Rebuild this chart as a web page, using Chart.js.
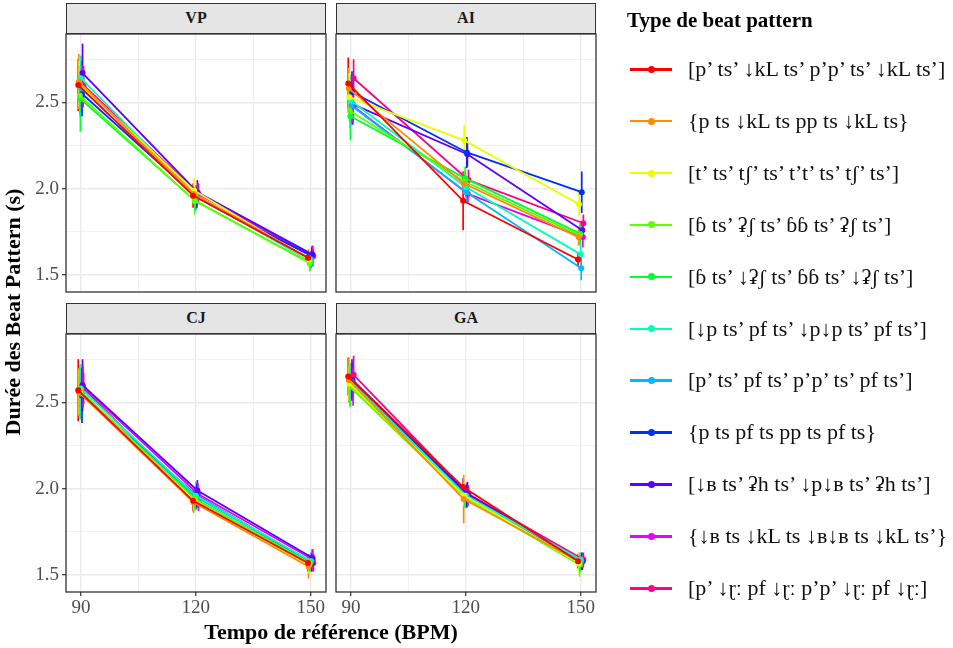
<!DOCTYPE html>
<html>
<head>
<meta charset="utf-8">
<script src="https://cdn.jsdelivr.net/npm/chart.js"></script>
<style>
  body { margin: 0; background: #fff; width: 953px; height: 648px; position: relative; overflow: hidden;
         font-family: "Liberation Serif", "Times New Roman", serif; }
  canvas.panel { position: absolute; left: 0; top: 0; }
  .strip { position: absolute; background: #E5E5E5; border: 1.3px solid #333; box-sizing: border-box;
           font-weight: bold; font-size: 16px; text-align: center; line-height: 28px; color: #1a1a1a; }
  .title { position: absolute; font-weight: bold; color: #000; white-space: nowrap; }
  .leg { position: absolute; left: 630px; height: 24px; width: 323px; }
  .leg .ln { position: absolute; left: 0; top: 11px; width: 42px; height: 2.6px; }
  .leg .dot { position: absolute; left: 17.5px; top: 8.8px; width: 7px; height: 7px; border-radius: 50%; }
  .leg .txt { position: absolute; left: 58px; top: -1px; font-size: 22px; line-height: 26px; color: #111; white-space: nowrap; }
</style>
</head>
<body>

<canvas id="cVP" class="panel" width="953" height="648"></canvas>
<canvas id="cAI" class="panel" width="953" height="648"></canvas>
<canvas id="cCJ" class="panel" width="953" height="648"></canvas>
<canvas id="cGA" class="panel" width="953" height="648"></canvas>

<div class="strip" style="left:66px;top:3px;width:260px;height:31px;">VP</div>
<div class="strip" style="left:336px;top:3px;width:260px;height:31px;">AI</div>
<div class="strip" style="left:66px;top:303px;width:260px;height:31px;">CJ</div>
<div class="strip" style="left:336px;top:303px;width:260px;height:31px;">GA</div>

<div class="title" style="left:0;top:0;font-size:22px;line-height:26px;transform-origin:0 0;transform:translate(0px,462px) rotate(-90deg);width:300px;text-align:center;">Durée des Beat Pattern (s)</div>
<div class="title" style="left:131px;top:619px;width:400px;text-align:center;font-size:22px;line-height:26px;">Tempo de référence (BPM)</div>
<div class="title" style="left:627px;top:7px;font-size:21px;line-height:26px;">Type de beat pattern</div>
<div id="legend"></div>

<script>
const tempos = [90, 120, 150];
const yTicks = [1.5, 1.75, 2.0, 2.25, 2.5, 2.75];
const xTicks = [90, 105, 120, 135, 150];

const patterns = [
  "[p’ ts’ ↓kL ts’ p’p’ ts’ ↓kL ts’]",
  "{p ts ↓kL ts pp ts ↓kL ts}",
  "[t’ ts’ tʃ’ ts’ t’t’ ts’ tʃ’ ts’]",
  "[ɓ ts’ ʡʃ ts’ ɓɓ ts’ ʡʃ ts’]",
  "[ɓ ts’ ↓ʡʃ ts’ ɓɓ ts’ ↓ʡʃ ts’]",
  "[↓p ts’ pf ts’ ↓p↓p ts’ pf ts’]",
  "[p’ ts’ pf ts’ p’p’ ts’ pf ts’]",
  "{p ts pf ts pp ts pf ts}",
  "[↓ʙ ts’ ʡh ts’ ↓p↓ʙ ts’ ʡh ts’]",
  "{↓ʙ ts ↓kL ts ↓ʙ↓ʙ ts ↓kL ts’}",
  "[p’ ↓ɽː pf ↓ɽː p’p’ ↓ɽː pf ↓ɽː]"
];

const colours = ["#FF0000", "#FF8B00", "#E8FF00", "#5DFF00", "#00FF2E", "#00FFB9",
                 "#00B9FF", "#002EFF", "#5D00FF", "#E800FF", "#FF008B"];

// mean duration (s) per pattern, at 90 / 120 / 150 BPM
const meanVP = [
  [2.60, 1.96, 1.60], [2.62, 1.97, 1.60], [2.61, 1.99, 1.59], [2.54, 1.93, 1.57],
  [2.52, 1.93, 1.57], [2.64, 1.96, 1.58], [2.58, 1.95, 1.59], [2.55, 1.95, 1.61],
  [2.67, 1.98, 1.62], [2.59, 1.97, 1.61], [2.60, 1.97, 1.61]
];
const errVP = [
  [0.15, 0.07, 0.04], [0.16, 0.06, 0.05], [0.13, 0.07, 0.04], [0.12, 0.08, 0.05],
  [0.19, 0.06, 0.04], [0.13, 0.06, 0.04], [0.16, 0.07, 0.05], [0.13, 0.06, 0.05],
  [0.17, 0.07, 0.05], [0.12, 0.06, 0.06], [0.11, 0.06, 0.04]
];

const meanAI = [
  [2.61, 1.93, 1.59], [2.58, 2.03, 1.72], [2.53, 2.28, 1.91], [2.45, 2.04, 1.73],
  [2.42, 2.06, 1.74], [2.51, 2.01, 1.62], [2.48, 1.98, 1.54], [2.56, 2.21, 1.98],
  [2.49, 2.20, 1.76], [2.48, 1.97, 1.72], [2.64, 2.05, 1.80]
];
const errAI = [
  [0.15, 0.17, 0.04], [0.12, 0.06, 0.05], [0.14, 0.09, 0.07], [0.10, 0.06, 0.06],
  [0.14, 0.07, 0.06], [0.15, 0.06, 0.06], [0.10, 0.06, 0.07], [0.12, 0.09, 0.12],
  [0.12, 0.07, 0.05], [0.10, 0.05, 0.06], [0.11, 0.06, 0.05]
];

const meanCJ = [
  [2.57, 1.93, 1.57], [2.56, 1.92, 1.55], [2.56, 1.93, 1.56], [2.57, 1.94, 1.57],
  [2.56, 1.94, 1.57], [2.58, 1.96, 1.58], [2.55, 1.95, 1.58], [2.54, 1.96, 1.57],
  [2.60, 1.99, 1.60], [2.59, 1.97, 1.59], [2.58, 1.92, 1.57]
];
const errCJ = [
  [0.18, 0.06, 0.05], [0.13, 0.06, 0.07], [0.14, 0.06, 0.05], [0.15, 0.07, 0.05],
  [0.16, 0.06, 0.05], [0.14, 0.08, 0.05], [0.14, 0.07, 0.05], [0.16, 0.07, 0.05],
  [0.15, 0.06, 0.05], [0.12, 0.06, 0.06], [0.09, 0.05, 0.05]
];

const meanGA = [
  [2.65, 2.01, 1.58], [2.63, 1.94, 1.58], [2.61, 1.96, 1.57], [2.59, 1.95, 1.56],
  [2.60, 1.95, 1.57], [2.62, 1.96, 1.59], [2.62, 1.96, 1.58], [2.63, 1.96, 1.58],
  [2.63, 1.97, 1.58], [2.59, 1.95, 1.58], [2.66, 1.97, 1.59]
];
const errGA = [
  [0.11, 0.05, 0.04], [0.13, 0.14, 0.05], [0.10, 0.06, 0.06], [0.12, 0.06, 0.07],
  [0.12, 0.06, 0.05], [0.11, 0.05, 0.04], [0.10, 0.06, 0.04], [0.12, 0.07, 0.05],
  [0.10, 0.07, 0.05], [0.11, 0.05, 0.04], [0.11, 0.05, 0.04]
];

const DODGE = 0.14;   // horizontal dodge between patterns, in BPM

// vertical error bars, drawn under the lines
const errorBars = {
  id: 'errorBars',
  beforeDatasetsDraw(chart) {
    const { ctx, chartArea, scales: { x, y } } = chart;
    ctx.save();
    ctx.beginPath();
    ctx.rect(chartArea.left, chartArea.top, chartArea.width, chartArea.height);
    ctx.clip();
    ctx.lineWidth = 1.7;
    chart.data.datasets.forEach(ds => {
      ctx.strokeStyle = ds.borderColor;
      ds.data.forEach((p, k) => {
        const px = x.getPixelForValue(p.x);
        ctx.beginPath();
        ctx.moveTo(px, y.getPixelForValue(p.y - ds.err[k]));
        ctx.lineTo(px, y.getPixelForValue(p.y + ds.err[k]));
        ctx.stroke();
      });
    });
    ctx.restore();
  }
};

const panelBorder = {
  id: 'panelBorder',
  afterDraw(chart) {
    const { ctx, chartArea: a } = chart;
    ctx.save();
    ctx.strokeStyle = '#333333';
    ctx.lineWidth = 1.3;
    ctx.strokeRect(a.left, a.top, a.right - a.left, a.bottom - a.top);
    ctx.restore();
  }
};

const isMajorY = v => Math.abs(v * 2 - Math.round(v * 2)) < 1e-6;

function makePanel(id, means, errs, box, showY, showX) {
  const yW = showY ? 66 : 0;
  const xH = showX ? 40 : 0;
  const datasets = patterns.map((name, i) => ({
    label: name,
    data: tempos.map((t, k) => ({ x: t + DODGE * (i - 5), y: means[i][k] })),
    err: errs[i],
    borderColor: colours[i],
    backgroundColor: colours[i],
    pointBackgroundColor: colours[i],
    borderWidth: 1.8,
    pointRadius: 3,
    pointBorderWidth: 0,
    showLine: true,
    tension: 0
  }));
  const tickFont = { family: "'Liberation Serif', 'Times New Roman', serif", size: 19 };
  new Chart(document.getElementById(id), {
    type: 'scatter',
    data: { datasets },
    options: {
      responsive: false,
      animation: false,
      devicePixelRatio: 1,
      layout: { padding: { left: box.left - yW, top: box.top, right: 953 - box.right, bottom: 648 - box.bottom - xH } },
      plugins: { legend: { display: false }, tooltip: { enabled: false } },
      scales: {
        x: {
          type: 'linear', min: 86.1, max: 154.0,
          afterBuildTicks: s => { s.ticks = xTicks.map(v => ({ value: v })); },
          afterFit: s => { s.height = xH; },
          border: { display: false },
          grid: {
            color: '#EBEBEB',
            lineWidth: c => (c.tick && c.tick.value % 30 === 0 ? 1.4 : 0.7),
            drawTicks: showX,
            tickLength: 4,
            tickColor: c => (c.tick && c.tick.value % 30 === 0 ? '#333333' : 'rgba(0,0,0,0)'),
            tickWidth: 1.2
          },
          ticks: {
            display: showX,
            autoSkip: false,
            maxRotation: 0,
            padding: 1,
            color: '#4D4D4D',
            font: tickFont,
            callback: v => (v % 30 === 0 ? String(v) : '')
          }
        },
        y: {
          type: 'linear', min: 1.402, max: 2.896,
          afterBuildTicks: s => { s.ticks = yTicks.map(v => ({ value: v })); },
          afterFit: s => { s.width = yW; },
          border: { display: false },
          grid: {
            color: '#EBEBEB',
            lineWidth: c => (c.tick && isMajorY(c.tick.value) ? 1.4 : 0.7),
            drawTicks: showY,
            tickLength: 4,
            tickColor: c => (c.tick && isMajorY(c.tick.value) ? '#333333' : 'rgba(0,0,0,0)'),
            tickWidth: 1.2
          },
          ticks: {
            display: showY,
            autoSkip: false,
            padding: 3,
            color: '#4D4D4D',
            font: tickFont,
            callback: v => (isMajorY(v) ? v.toFixed(1) : '')
          }
        }
      }
    },
    plugins: [errorBars, panelBorder]
  });
}

makePanel('cVP', meanVP, errVP, { left: 66, top: 34, right: 326, bottom: 292 }, true, false);
makePanel('cAI', meanAI, errAI, { left: 336, top: 34, right: 596, bottom: 292 }, false, false);
makePanel('cCJ', meanCJ, errCJ, { left: 66, top: 334, right: 326, bottom: 592 }, true, true);
makePanel('cGA', meanGA, errGA, { left: 336, top: 334, right: 596, bottom: 592 }, false, true);

// legend
const legend = document.getElementById('legend');
patterns.forEach((name, i) => {
  const row = document.createElement('div');
  row.className = 'leg';
  row.style.top = (69 + 51.9 * i - 12) + 'px';
  row.innerHTML = '<span class="ln" style="background:' + colours[i] + '"></span>' +
                  '<span class="dot" style="background:' + colours[i] + '"></span>' +
                  '<span class="txt">' + name + '</span>';
  legend.appendChild(row);
});
</script>
</body>
</html>
